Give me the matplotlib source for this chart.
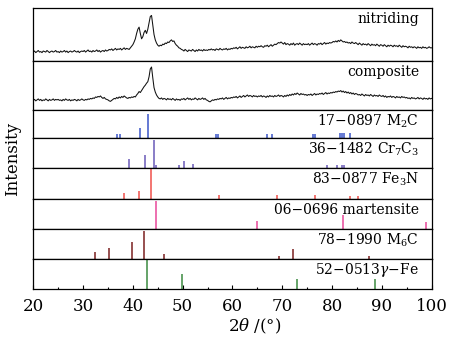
import numpy as np
import matplotlib
matplotlib.use('Agg')
import matplotlib.pyplot as plt

plt.rcParams['font.family'] = 'DejaVu Serif'
plt.rcParams['mathtext.fontset'] = 'dejavuserif'

# measured spectra, 20..100 deg every 0.25 deg
two_theta = np.arange(20, 100.001, 0.25)

nitriding = [
    17, 19, 16, 18, 20, 17, 18, 16, 19, 18, 17, 20, 18, 16, 18, 19, 17, 18, 20, 17,
    18, 16, 19, 17, 18, 20, 17, 19, 16, 18, 19, 17, 18, 20, 18, 17, 19, 16, 18, 19,
    18, 20, 17, 19, 21, 18, 19, 17, 20, 18, 19, 21, 18, 20, 17, 19, 20, 18, 21, 19,
    20, 22, 21, 23, 20, 22, 24, 21, 23, 22, 24, 21, 23, 25, 22, 24, 23, 22, 25, 28,
    31, 36, 42, 52, 60, 64, 52, 42, 46, 54, 58, 52, 60, 72, 84, 86, 68, 50, 40, 34,
    30, 28, 30, 29, 32, 31, 34, 33, 36, 35, 38, 40, 37, 38, 33, 30, 28, 25, 24, 22,
    21, 19, 22, 20, 18, 21, 20, 19, 22, 20, 18, 21, 19, 22, 20, 21, 19, 22, 20, 21,
    20, 22, 21, 23, 21, 22, 20, 23, 22, 21, 24, 22, 21, 23, 22, 24, 21, 23, 22, 24,
    23, 25, 24, 26, 23, 25, 27, 24, 26, 25, 24, 27, 25, 26, 28, 25, 27, 26, 25, 28,
    26, 28, 27, 29, 27, 26, 29, 28, 30, 27, 29, 31, 28, 30, 32, 31, 33, 35, 34, 36,
    34, 32, 35, 31, 33, 32, 30, 33, 31, 34, 30, 32, 33, 31, 34, 32, 30, 33, 31, 32,
    31, 33, 30, 32, 34, 31, 33, 32, 30, 33, 32, 34, 31, 33, 35, 32, 34, 33, 35, 34,
    35, 37, 36, 38, 36, 39, 37, 40, 38, 36, 37, 35, 36, 34, 35, 33, 36, 34, 33, 35,
    33, 31, 34, 32, 30, 33, 31, 32, 30, 33, 31, 29, 32, 30, 31, 29, 32, 30, 28, 31,
    30, 28, 31, 29, 27, 30, 28, 30, 29, 27, 30, 28, 29, 27, 30, 28, 26, 29, 27, 28,
    27, 25, 28, 26, 27, 25, 27, 26, 24, 27, 25, 26, 24, 27, 25, 26, 24, 25, 27, 25,
    25]

composite = [
    20, 22, 19, 21, 23, 20, 22, 19, 21, 20, 23, 21, 19, 22, 20, 21, 23, 20, 22, 21,
    22, 20, 21, 19, 22, 20, 23, 21, 20, 22, 19, 21, 20, 22, 21, 19, 22, 20, 21, 23,
    21, 20, 22, 21, 23, 22, 24, 23, 25, 24, 27, 26, 28, 27, 29, 26, 24, 26, 23, 22,
    21, 19, 18, 20, 22, 24, 23, 26, 24, 27, 25, 28, 26, 29, 27, 25, 24, 26, 25, 27,
    26, 28, 27, 31, 34, 38, 36, 40, 44, 48, 51, 55, 58, 68, 84, 88, 66, 46, 37, 31,
    27, 24, 23, 25, 22, 24, 23, 21, 24, 22, 23, 21, 24, 22, 20, 23, 21, 22, 20, 23,
    22, 24, 21, 23, 25, 22, 24, 21, 23, 22, 25, 23, 21, 24, 22, 23, 25, 22, 24, 21,
    20, 18, 17, 19, 21, 20, 22, 21, 23, 22, 24, 23, 25, 22, 24, 26, 23, 25, 24, 26,
    25, 27, 26, 28, 25, 27, 29, 26, 28, 30, 27, 29, 31, 28, 30, 29, 27, 30, 28, 29,
    27, 29, 28, 30, 27, 29, 28, 26, 29, 27, 30, 28, 29, 27, 30, 28, 29, 31, 28, 30,
    29, 27, 30, 28, 31, 29, 32, 30, 33, 31, 34, 32, 35, 33, 31, 34, 32, 33, 31, 32,
    30, 32, 31, 33, 30, 32, 34, 31, 33, 32, 34, 33, 35, 32, 34, 36, 33, 35, 34, 36,
    35, 37, 36, 38, 37, 39, 38, 40, 37, 39, 36, 38, 35, 37, 34, 36, 33, 35, 32, 34,
    33, 31, 32, 30, 33, 31, 29, 32, 30, 31, 29, 32, 30, 28, 31, 29, 30, 28, 31, 29,
    28, 30, 27, 29, 26, 28, 27, 29, 26, 28, 27, 25, 28, 26, 27, 25, 28, 26, 27, 25,
    26, 24, 25, 23, 26, 24, 25, 23, 24, 26, 23, 25, 24, 22, 25, 23, 24, 22, 25, 23,
    24]

# PDF reference cards: peak positions (deg) and relative heights
m2c_pos = [36.9, 37.4, 41.4, 43.0, 56.7, 57.0, 66.9, 67.9, 76.2, 76.5, 81.7, 82.1, 82.5, 83.6]
m2c_int = [15, 15, 35, 88, 15, 15, 15, 15, 15, 15, 18, 18, 18, 18]

cr7c3_pos = [39.2, 42.5, 44.2, 44.6, 49.3, 50.2, 52.0, 78.9, 80.9, 82.0, 82.4]
cr7c3_int = [32, 44, 94, 12, 10, 23, 15, 11, 12, 11, 11]

fe3n_pos = [38.2, 41.2, 43.6, 57.4, 69.0, 76.6, 83.6, 85.3]
fe3n_int = [20, 26, 98, 14, 13, 13, 10, 8]

mart_pos = [44.6, 65.0, 82.3, 98.9]
mart_int = [93, 26, 47, 22]

m6c_pos = [32.3, 35.2, 39.8, 42.3, 46.2, 69.3, 72.2, 87.4]
m6c_int = [24, 36, 57, 93, 18, 11, 34, 10]

gfe_pos = [42.8, 49.8, 73.0, 88.6]
gfe_int = [98, 50, 31, 33]

labels = ['nitriding', 'composite',
          '17\u22120897 M$_2$C', '36\u22121482 Cr$_7$C$_3$', '83\u22120877 Fe$_3$N',
          '06\u22120696 martensite', '78\u22121990 M$_6$C', '52\u22120513$\\gamma$\u2212Fe']

sticks = [(m2c_pos, m2c_int, '#3a55c8'),
          (cr7c3_pos, cr7c3_int, '#6a5ab8'),
          (fe3n_pos, fe3n_int, '#f0504a'),
          (mart_pos, mart_int, '#e8489a'),
          (m6c_pos, m6c_int, '#7a1f1f'),
          (gfe_pos, gfe_int, '#3a8a40')]

fig = plt.figure(figsize=(4.51, 3.38), dpi=100)
gs = fig.add_gridspec(8, 1, height_ratios=[53, 49, 28, 30, 30.5, 30, 30, 29.5],
                      hspace=0, left=0.0738, right=0.957, top=0.9763, bottom=0.1464)
axes = [fig.add_subplot(gs[i]) for i in range(8)]

axes[0].plot(two_theta, nitriding, color='#111111', lw=0.75)
axes[1].plot(two_theta, composite, color='#111111', lw=0.75)
for ax, (pos, h, col) in zip(axes[2:], sticks):
    ax.vlines(pos, 0, h, color=col, lw=1.1)

for ax, lab in zip(axes, labels):
    ax.set_xlim(20, 100)
    ax.set_ylim(0, 100)
    ax.set_yticks([])
    for sp in ax.spines.values():
        sp.set_linewidth(0.9)
    ax.tick_params(bottom=False, labelbottom=False, left=False)
    ax.annotate(lab, xy=(1, 1), xycoords='axes fraction', xytext=(-9, -11),
                textcoords='offset points', ha='right', va='baseline', fontsize=10)

bot = axes[-1]
bot.set_xticks(np.arange(20, 101, 10))
bot.set_xticks(np.arange(25, 100, 10), minor=True)
bot.tick_params(axis='x', which='both', bottom=True, labelbottom=True, direction='in',
                width=0.8, labelsize=12, pad=7)
bot.tick_params(axis='x', which='major', length=3)
bot.tick_params(axis='x', which='minor', length=1.5)
bot.set_xlabel('2$\\theta$ /(°)', fontsize=12, labelpad=1)
bot.xaxis.set_label_coords(0.556, -0.97)

fig.text(0.027, 0.53, 'Intensity', rotation=90, ha='center', va='center', fontsize=12)

fig.savefig('out.png', dpi=100)
